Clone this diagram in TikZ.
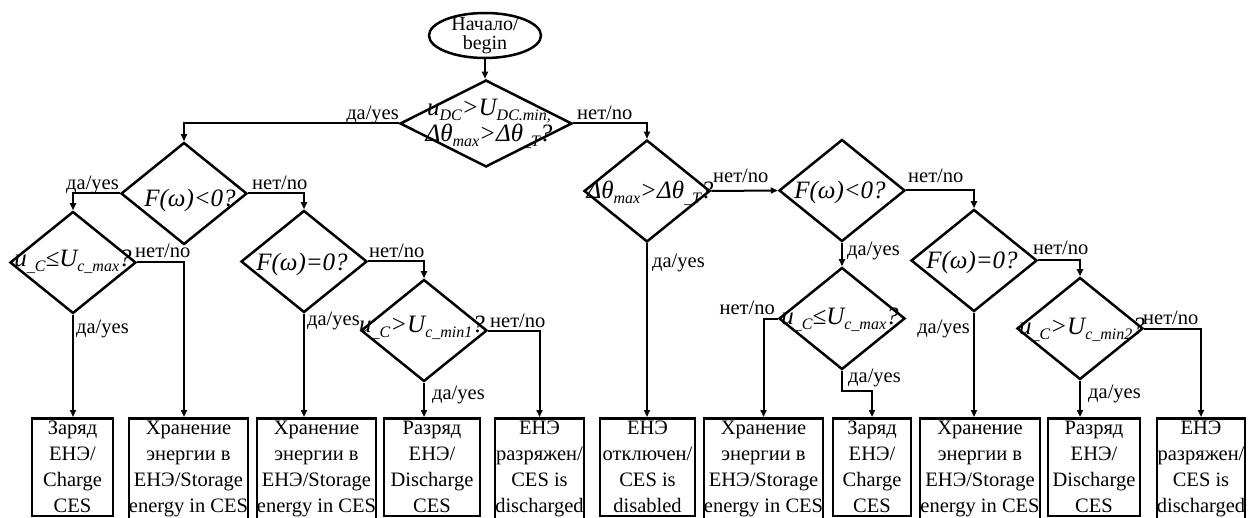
\documentclass[tikz,border=0pt]{standalone}
\usepackage{fontspec}
\setmainfont{Liberation Serif}
\usetikzlibrary{shapes.geometric,arrows.meta}
\newcommand\dsb[1]{\raisebox{-0.2em}{\fontsize{16}{16}\selectfont\itshape #1}}
\tikzset{
 conn/.style={line width=2pt},
 arr/.style={conn,-{Triangle[length=7pt,width=6pt]}},
 dia/.style={draw,diamond,line width=2.5pt,minimum width=126pt,minimum height=102pt,inner sep=0pt},
 dtext/.style={font=\fontsize{25}{24}\selectfont\itshape,inner sep=0pt,align=center},
 lbl/.style={font=\fontsize{20.5}{22}\selectfont,inner sep=0pt},
 box/.style={draw,line width=2.5pt,anchor=north,align=center,inner xsep=0pt,inner ysep=3pt,font=\fontsize{20.5}{26}\selectfont},
 startnode/.style={draw,ellipse,line width=2.5pt,minimum width=112pt,minimum height=45pt,inner sep=0pt}
}
\begin{document}
\begin{tikzpicture}[x=1pt,y=-1pt]
\useasboundingbox (0,0) rectangle (1249,518);
% start
\node[startnode] (st) at (485,35.5) {};
\node[lbl,align=center,font=\fontsize{20}{19}\selectfont] (stt) at (485,36) {Начало/\\begin};
% diamonds
\node[dia,minimum width=172pt,minimum height=87pt] (d1) at (486,123.5) {};
\node[dia] (d2) at (184,193.5) {};
\node[dia] (d3) at (73,262.5) {};
\node[dia] (d4) at (304,261.5) {};
\node[dia] (d5) at (424,330.5) {};
\node[dia] (d6) at (647,191) {};
\node[dia] (d7) at (842,190.5) {};
\node[dia] (d8) at (842,318.5) {};
\node[dia] (d9) at (974,260.5) {};
\node[dia] (d10) at (1080,328.5) {};
% diamond texts
\node[dtext] (t1) at (489,124) {u\dsb{DC}>U\dsb{DC.min,}\\Δθ\dsb{max}>Δθ\dsb{\_T}?};
\node[dtext] (t2) at (190,200) {F(ω)<0?};
\node[dtext] (t3) at (73,262) {u\dsb{\_C}≤U\dsb{c\_max}?};
\node[dtext] (t4) at (302,264) {F(ω)=0?};
\node[dtext] (t5) at (422,328) {u\dsb{\_C}>U\dsb{c\_min1}?};
\node[dtext] (t6) at (650,193) {Δθ\dsb{max}>Δθ\dsb{\_T}?};
\node[dtext] (t7) at (840,192) {F(ω)<0?};
\node[dtext] (t8) at (840,320) {u\dsb{\_C}≤U\dsb{c\_max}?};
\node[dtext] (t9) at (972,262) {F(ω)=0?};
\node[dtext] (t10) at (1082,330) {u\dsb{\_C}>U\dsb{c\_min2}?};
% boxes
\node[box,minimum width=81pt] (b1) at (72.5,417) {Заряд\\ЕНЭ/\\Charge\\CES};
\node[box,minimum width=119pt] (b2) at (188.5,417) {Хранение\\энергии в\\ЕНЭ/Storage\\energy in CES};
\node[box,minimum width=119pt] (b3) at (316.5,417) {Хранение\\энергии в\\ЕНЭ/Storage\\energy in CES};
\node[box,minimum width=96pt] (b4) at (432,417) {Разряд\\ЕНЭ/\\Discharge\\CES};
\node[box,minimum width=89pt] (b5) at (539.5,417) {ЕНЭ\\разряжен/\\CES is\\discharged};
\node[box,minimum width=95pt] (b6) at (647.5,417) {ЕНЭ\\отключен/\\CES is\\disabled};
\node[box,minimum width=119pt] (b7) at (763.5,417) {Хранение\\энергии в\\ЕНЭ/Storage\\energy in CES};
\node[box,minimum width=78pt] (b8) at (872,417) {Заряд\\ЕНЭ/\\Charge\\CES};
\node[box,minimum width=120pt] (b9) at (980,417) {Хранение\\энергии в\\ЕНЭ/Storage\\energy in CES};
\node[box,minimum width=92pt] (b10) at (1094,417) {Разряд\\ЕНЭ/\\Discharge\\CES};
\node[box,minimum width=88pt] (b11) at (1201,417) {ЕНЭ\\разряжен/\\CES is\\discharged};
% connectors
\draw[arr] (st.south) -- (st.south |- d1.north);
\draw[arr] (d1.west) -| (d2.north);
\draw[arr] (d1.east) -| (d6.north);
\draw[arr] (d2.west) -| (d3.north);
\draw[arr] (d2.east) -| (d4.north);
\draw[arr] (d3.south) -- (d3.south |- b1.north);
\draw[arr] (d3.east) -| (d2.center |- b2.north);
\draw[arr] (d4.south) -- (d4.south |- b3.north);
\draw[arr] (d4.east) -| (d5.north);
\draw[arr] (d5.south) -- (d5.south |- b4.north);
\draw[arr] (d5.east) -| (b5.north);
\draw[arr] (d6.south) -- (d6.south |- b6.north);
\draw[arr] (d6.east) -- (d7.west);
\draw[arr] (d7.east) -| (d9.north);
\draw[arr] (d7.south) -- (d8.north);
\draw[arr] (d8.west) -| (b7.north);
\draw[arr] (d8.south) -- ++(0,20) -| (b8.north);
\draw[arr] (d9.south) -- (d9.south |- b9.north);
\draw[arr] (d9.east) -| (d10.north);
\draw[arr] (d10.south) -- (d10.south |- b10.north);
\draw[arr] (d10.east) -| (b11.north);
% labels
\node[lbl,anchor=base east] (l1y) at (399,120) {да/yes};
\node[lbl,anchor=base west] (l1n) at (577,120) {нет/no};
\node[lbl,anchor=base east] (l2y) at (119,190) {да/yes};
\node[lbl,anchor=base west] (l2n) at (252,190) {нет/no};
\node[lbl,anchor=base west] (l3n) at (135,258) {нет/no};
\node[lbl,anchor=base west] (l3y) at (76,333) {да/yes};
\node[lbl,anchor=base west] (l4n) at (369,258) {нет/no};
\node[lbl,anchor=base west] (l4y) at (307,325) {да/yes};
\node[lbl,anchor=base west] (l5n) at (490,327) {нет/no};
\node[lbl,anchor=base west] (l5y) at (432,399) {да/yes};
\node[lbl,anchor=base west] (l6n) at (713,183) {нет/no};
\node[lbl,anchor=base west] (l6y) at (652,268) {да/yes};
\node[lbl,anchor=base west] (l7n) at (908,183) {нет/no};
\node[lbl,anchor=base west] (l7y) at (847,256) {да/yes};
\node[lbl,anchor=base east] (l8n) at (775,315) {нет/no};
\node[lbl,anchor=base west] (l8y) at (848,382) {да/yes};
\node[lbl,anchor=base west] (l9n) at (1033,255) {нет/no};
\node[lbl,anchor=base east] (l9y) at (970,333) {да/yes};
\node[lbl,anchor=base west] (l10n) at (1143,324) {нет/no};
\node[lbl,anchor=base west] (l10y) at (1088,398) {да/yes};
\end{tikzpicture}
\end{document}
